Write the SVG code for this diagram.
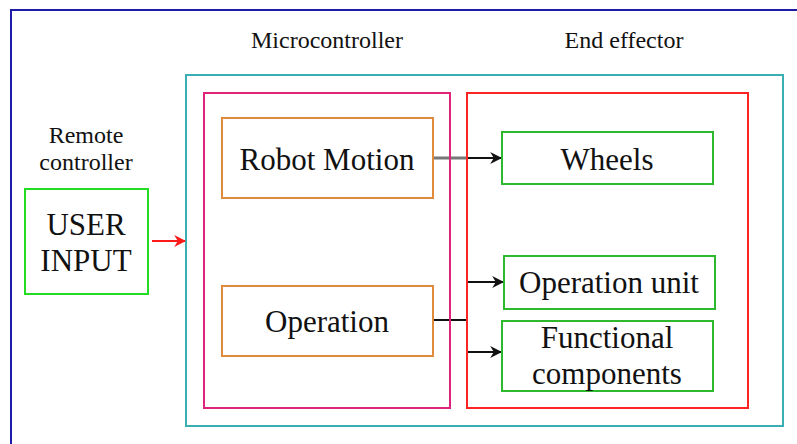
<svg xmlns="http://www.w3.org/2000/svg" width="797" height="444" viewBox="0 0 797 444">
<defs>
<marker id="ah" viewBox="0 0 10 10" refX="9" refY="5" markerWidth="6" markerHeight="6" orient="auto" markerUnits="strokeWidth"><path d="M0,0 L10,5 L0,10 L3,5 z" fill="#111"/></marker>
<marker id="ahr" viewBox="0 0 10 10" refX="9" refY="5" markerWidth="6" markerHeight="6" orient="auto" markerUnits="strokeWidth"><path d="M0,0 L10,5 L0,10 L3,5 z" fill="#ff1a1a"/></marker>
</defs>
<rect width="797" height="444" fill="#fff"/>
<g id="frame"><rect x="11" y="10" width="800" height="450" fill="none" stroke="#1c1ca8" stroke-width="2"/></g>
<g id="microcontroller-label"><text font-family="Liberation Serif" font-size="24" fill="#111" text-anchor="middle" x="327" y="48">Microcontroller</text></g>
<g id="endeffector-label"><text font-family="Liberation Serif" font-size="24" fill="#111" text-anchor="middle" x="624" y="48">End effector</text></g>
<g id="system"><rect x="186" y="75" width="597" height="351" fill="none" stroke="#3aaeb2" stroke-width="2"/></g>
<g id="connectors" fill="none" stroke="#111" stroke-width="2">
<line x1="152" y1="241" x2="185" y2="241" stroke="#ff1a1a" marker-end="url(#ahr)"/>
<line x1="433" y1="158" x2="467" y2="158" stroke="#777" stroke-width="3"/>
<line x1="466" y1="158" x2="501" y2="158" marker-end="url(#ah)"/>
<line x1="433" y1="320" x2="467" y2="320"/>
<line x1="467" y1="282" x2="467" y2="352"/>
<line x1="467" y1="282" x2="503" y2="282" marker-end="url(#ah)"/>
<line x1="467" y1="352" x2="501" y2="352" marker-end="url(#ah)"/>
</g>
<g id="microcontroller"><rect x="204" y="93" width="246" height="315" fill="none" stroke="#e0247c" stroke-width="2"/></g>
<g id="endeffector"><rect x="467" y="93" width="281" height="315" fill="none" stroke="#ff2424" stroke-width="2"/></g>
<g id="remote" font-family="Liberation Serif" font-size="24" fill="#111" text-anchor="middle">
<text x="86" y="143">Remote</text>
<text x="86" y="170">controller</text>
</g>
<g id="userinput">
<rect x="25" y="189" width="123" height="105" fill="none" stroke="#22dd22" stroke-width="2"/>
<text font-family="Liberation Serif" font-size="31" fill="#111" text-anchor="middle" x="86" y="235">USER</text>
<text font-family="Liberation Serif" font-size="31" fill="#111" text-anchor="middle" x="86" y="271">INPUT</text>
</g>
<g id="robotmotion">
<rect x="222" y="118" width="211" height="80" fill="none" stroke="#e08a3c" stroke-width="2"/>
<text font-family="Liberation Serif" font-size="31" fill="#111" text-anchor="middle" x="327" y="170">Robot Motion</text>
</g>
<g id="operation">
<rect x="222" y="286" width="211" height="70" fill="none" stroke="#e08a3c" stroke-width="2"/>
<text font-family="Liberation Serif" font-size="31" fill="#111" text-anchor="middle" x="327" y="332">Operation</text>
</g>
<g id="wheels">
<rect x="502" y="132" width="211" height="52" fill="none" stroke="#2db82d" stroke-width="2"/>
<text font-family="Liberation Serif" font-size="31" fill="#111" text-anchor="middle" x="607" y="170">Wheels</text>
</g>
<g id="operationunit">
<rect x="504" y="256" width="211" height="53" fill="none" stroke="#2db82d" stroke-width="2"/>
<text font-family="Liberation Serif" font-size="31" fill="#111" text-anchor="middle" x="609" y="293">Operation unit</text>
</g>
<g id="functional">
<rect x="502" y="321" width="211" height="70" fill="none" stroke="#2db82d" stroke-width="2"/>
<text font-family="Liberation Serif" font-size="31" fill="#111" text-anchor="middle" x="607" y="348">Functional</text>
<text font-family="Liberation Serif" font-size="31" fill="#111" text-anchor="middle" x="607" y="384">components</text>
</g>
</svg>
